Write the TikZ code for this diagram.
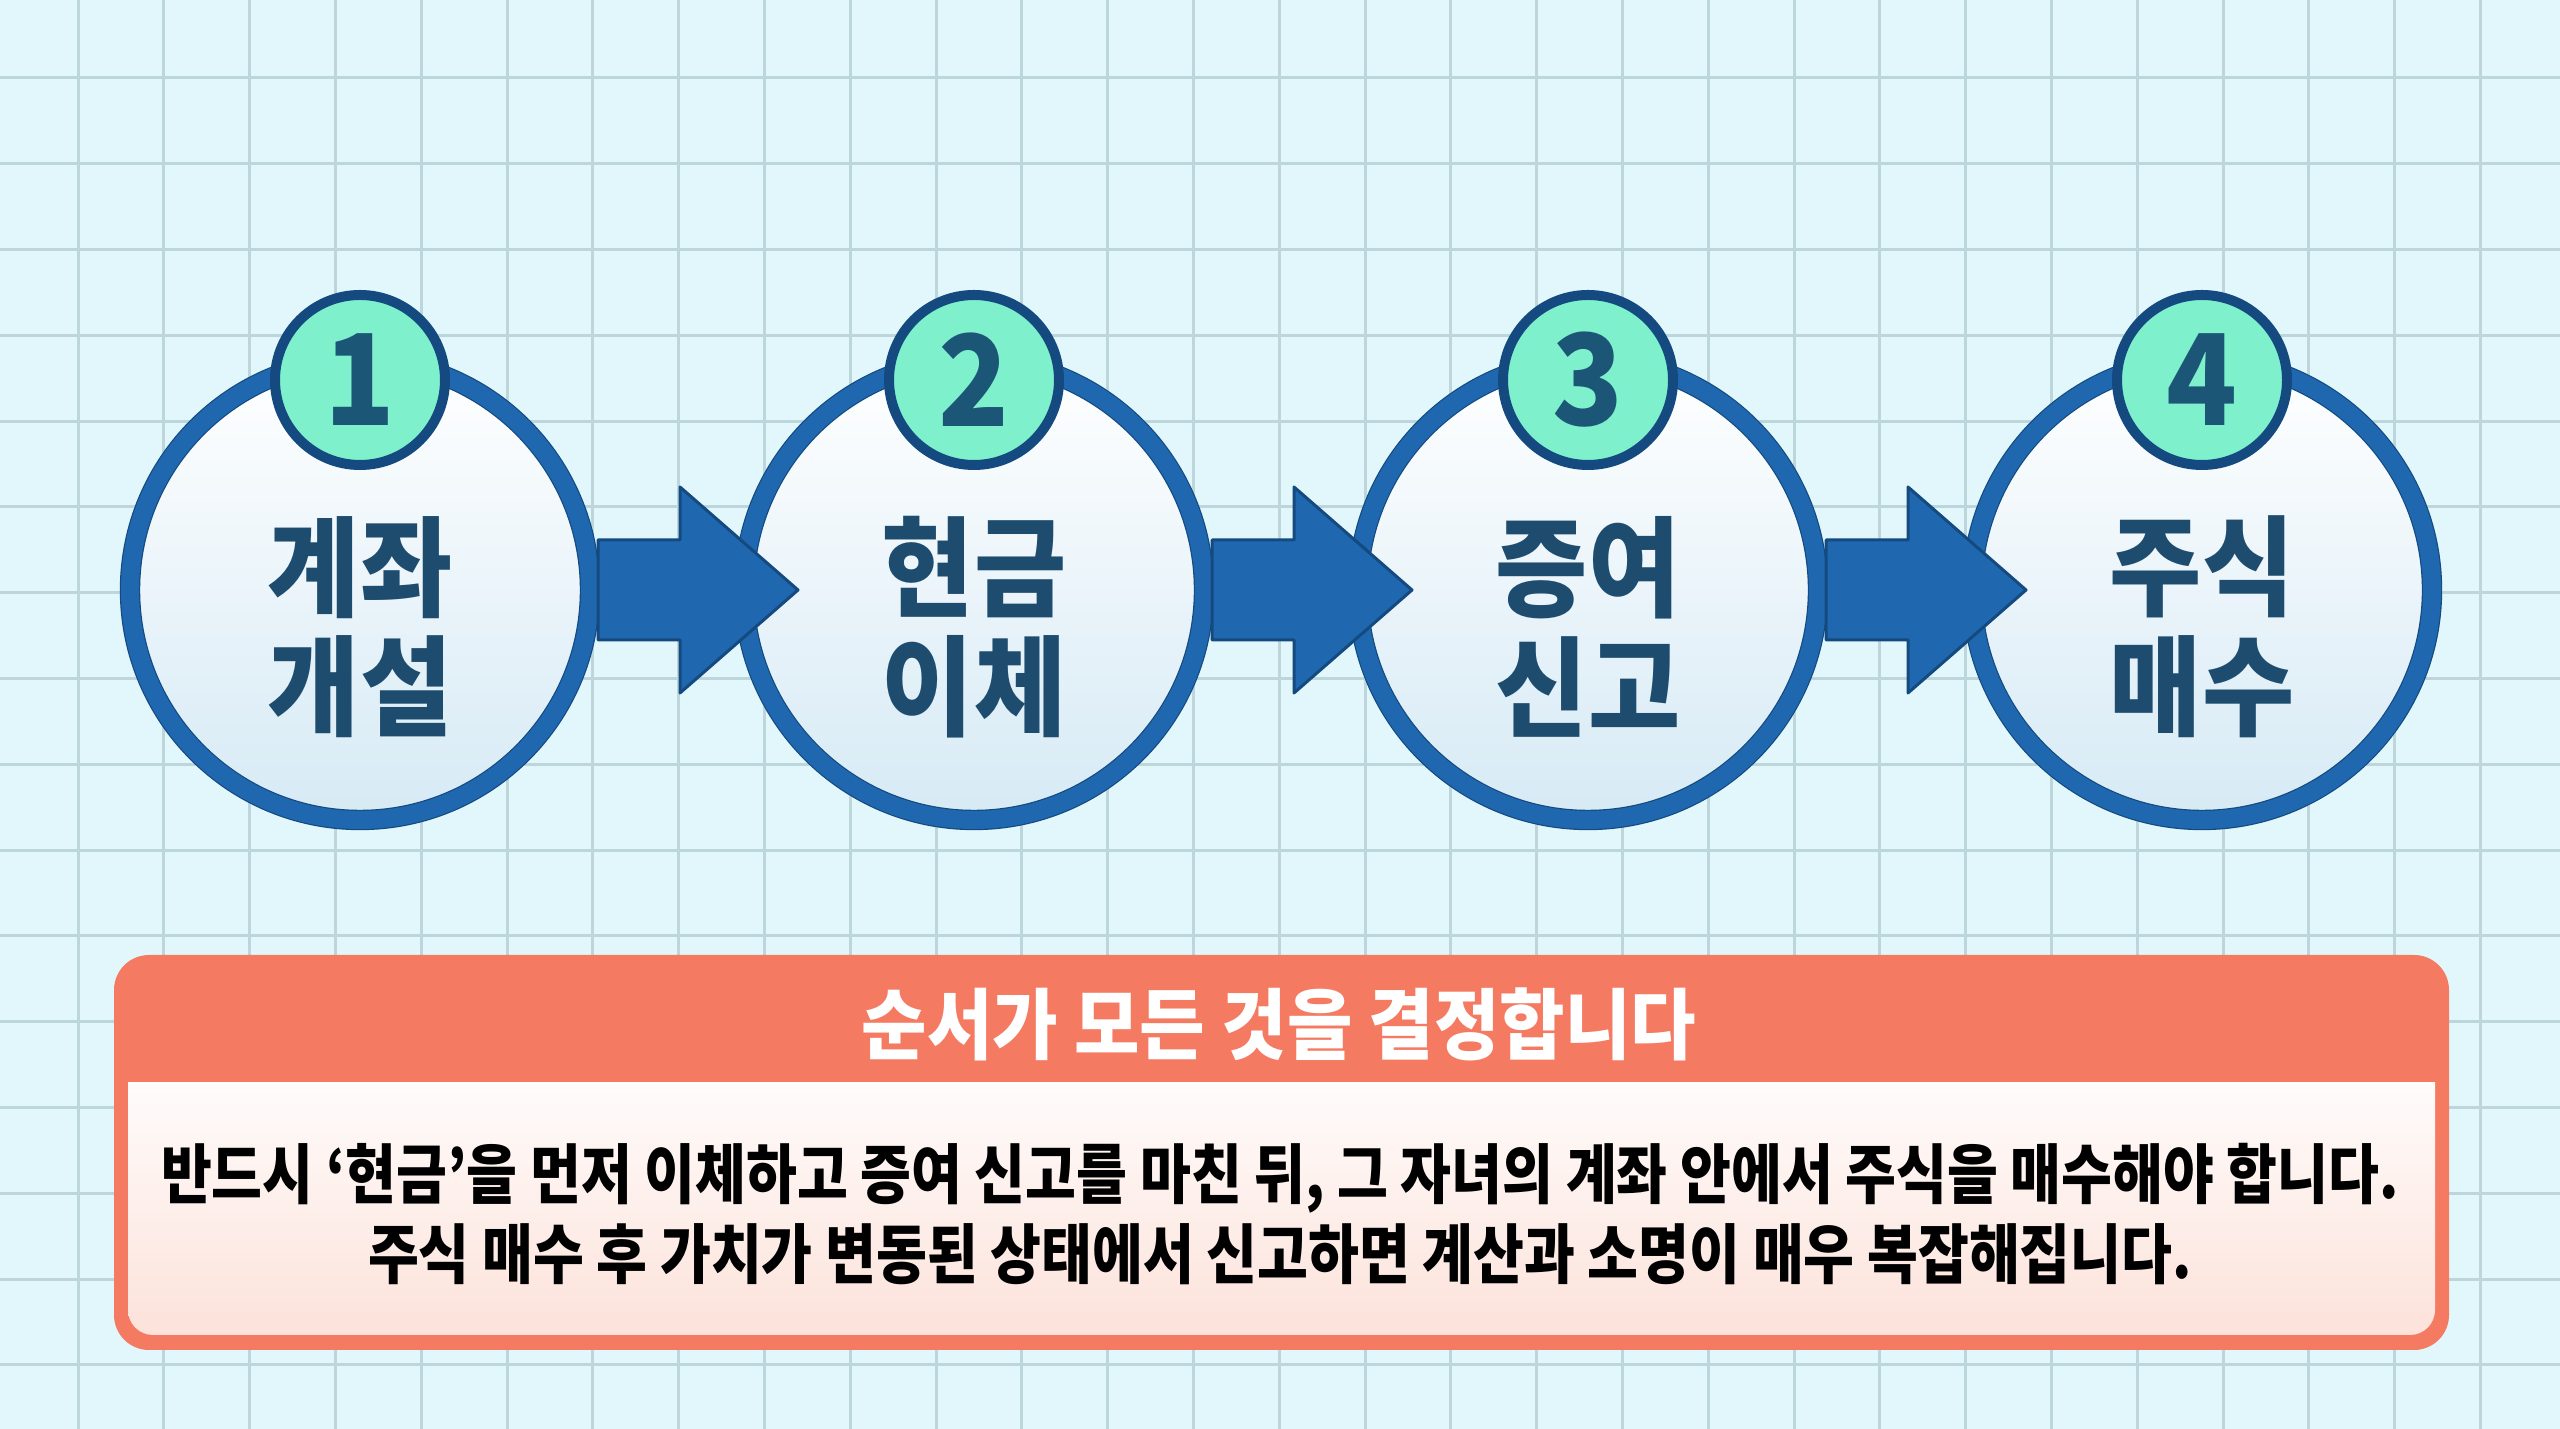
\documentclass[tikz,border=0pt]{standalone}
\usepackage{fontspec}
\usepackage{tikz}
\usetikzlibrary{calc,positioning}
\newfontfamily\krlabel{Noto Sans CJK KR}[FakeStretch=0.92]
\newfontfamily\krhead{Noto Sans CJK KR}[FakeStretch=0.92]
\newfontfamily\krbody{Noto Sans CJK KR}[FakeStretch=0.85]
\definecolor{paperbg}{RGB}{226,247,251}
\definecolor{gridline}{RGB}{188,214,220}
\definecolor{ringblue}{RGB}{31,104,176}
\definecolor{ringdark}{RGB}{20,74,128}
\definecolor{ringpale}{RGB}{214,234,245}
\definecolor{stepink}{RGB}{30,76,110}
\definecolor{badgemint}{RGB}{126,240,204}
\definecolor{badgeink}{RGB}{27,86,118}
\definecolor{notecoral}{RGB}{245,122,98}
\definecolor{notepink}{RGB}{252,226,218}

\begin{document}
\begin{tikzpicture}[
  stepring/.style={circle, minimum size=4.6cm, inner sep=0pt, outer sep=0.1cm,
    draw=ringdark, line width=0.012cm, double=ringblue, double distance=0.18cm,
    top color=white, bottom color=ringpale},
  stepbadge/.style={circle, minimum size=1.7cm, inner sep=0pt,
    draw=ringdark, line width=0.1cm, fill=badgemint, text=badgeink,
    font=\krhead\bfseries\fontsize{36}{36}\selectfont},
  steplabel/.style={align=center, text=stepink,
    font=\krlabel\bfseries\fontsize{31}{34}\selectfont},
  steparrow/.style={fill=ringblue, draw=ringdark, line width=0.03cm, line join=round},
]

\useasboundingbox (0,0) rectangle (25.6,14.29);

%% ── BACKGROUND: squared paper ────────────────────────────────────────────
\fill[paperbg] (0,0) rectangle (25.6,14.29);
\foreach \k in {1,...,29}{
  \draw[gridline, line width=0.03cm] ({-0.078+0.858*\k},0) -- ++(0,14.29);
}
\foreach \k in {0,...,15}{
  \draw[gridline, line width=0.03cm] (0,{13.51-0.858*\k}) -- ++(25.6,0);
}

%% ── STEP CIRCLES ─────────────────────────────────────────────────────────
\foreach \i/\x/\wa/\wb in {1/3.60/계좌/개설, 2/9.74/현금/이체,
                           3/15.88/증여/신고, 4/22.02/주식/매수}{
  \node[stepring] (c\i) at (\x,8.39) {};
  \node[steplabel] (t\i) at ($(c\i)+(0,-0.37)$) {\wa\\\wb};
  \node[stepbadge] (n\i) at ($(c\i)+(0,2.10)$) {\i};
}

%% ── BLOCK ARROWS (on top of the rings) ───────────────────────────────────
\foreach \i/\j in {1/2,2/3,3/4}{
  \draw[steparrow]
    ($(c\i.east)+(-0.02,0.50)$) -- ($(c\i.east)+(0.80,0.50)$)
    -- ($(c\i.east)+(0.80,1.03)$) -- ($(c\j.west)+(0.64,0)$)
    -- ($(c\i.east)+(0.80,-1.03)$) -- ($(c\i.east)+(0.80,-0.50)$)
    -- ($(c\i.east)+(-0.02,-0.50)$) -- cycle;
}

%% ── NOTE BOX ─────────────────────────────────────────────────────────────
\fill[notecoral, rounded corners=0.35cm] (1.14,0.79) rectangle (24.49,4.74);
% white body, shaded towards pink at the bottom
\shade[top color=white, bottom color=notepink, rounded corners=0.25cm]
  (1.28,0.94) rectangle (24.35,3.80);
\fill[notecoral] (1.14,3.47) rectangle (24.49,4.38);

\node[text=white, font=\krhead\bfseries\fontsize{22}{26}\selectfont]
  (head) at (12.79,4.05) {순서가 모든 것을 결정합니다};
\node[align=center, text=black, font=\krbody\bfseries\fontsize{18.5}{23}\selectfont]
  (body) at (12.80,2.15)
  {반드시 ‘현금’을 먼저 이체하고 증여 신고를 마친 뒤, 그 자녀의 계좌 안에서 주식을 매수해야 합니다.\\
   주식 매수 후 가치가 변동된 상태에서 신고하면 계산과 소명이 매우 복잡해집니다.};

\end{tikzpicture}
\end{document}
